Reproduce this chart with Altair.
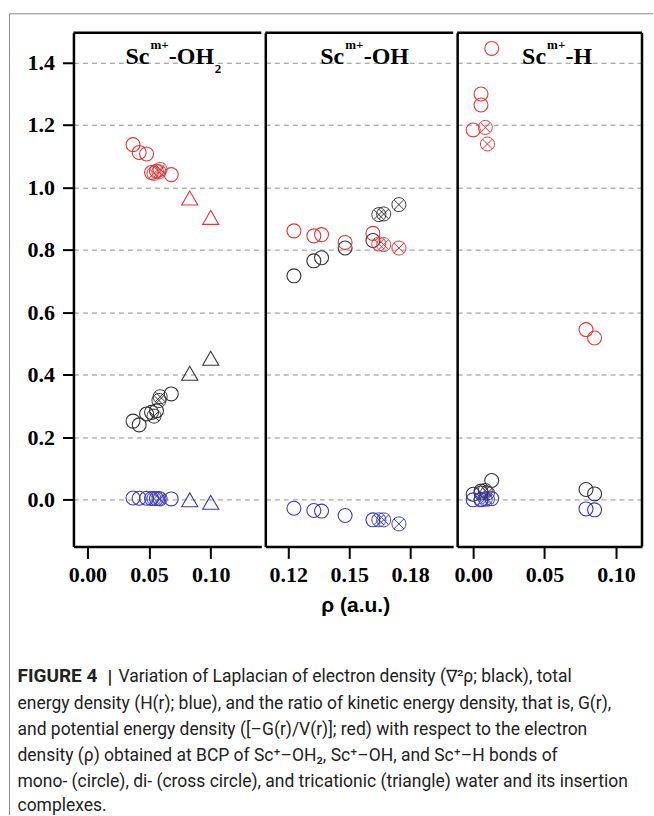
import altair as alt
import pandas as pd

# ---------------- data ----------------
Y_TICKS = [0.0, 0.2, 0.4, 0.6, 0.8, 1.0, 1.2, 1.4]
Y_DOMAIN = [-0.149, 1.495]

P1_X_TICKS = [0.0, 0.05, 0.10]
P2_X_TICKS = [0.12, 0.15, 0.18]
P3_X_TICKS = [0.0, 0.05, 0.10]

P1_X_DOMAIN = [-0.0113, 0.141]
P2_X_DOMAIN = [0.1087, 0.2012]
P3_X_DOMAIN = [-0.0112, 0.1182]

# Panel 1: Sc-OH2
P1_MONO_RHO = [0.037, 0.042, 0.048, 0.052, 0.056, 0.068]
P1_MONO_LAP = [0.252, 0.240, 0.275, 0.280, 0.285, 0.339]
P1_MONO_H = [0.006, 0.005, 0.005, 0.004, 0.004, 0.003]
P1_MONO_GV = [1.137, 1.112, 1.107, 1.048, 1.052, 1.041]
P1_DI_RHO = [0.054, 0.058, 0.059]
P1_DI_LAP = [0.268, 0.318, 0.330]
P1_DI_H = [0.004, 0.004, 0.003]
P1_DI_GV = [1.045, 1.050, 1.058]
P1_TRI_RHO = [0.083, 0.100]
P1_TRI_LAP = [0.405, 0.453]
P1_TRI_H = [0.000, -0.008]
P1_TRI_GV = [0.966, 0.904]

# Panel 2: Sc-OH
P2_MONO_RHO = [0.1228, 0.1326, 0.1364, 0.148, 0.1617]
P2_MONO_LAP = [0.717, 0.765, 0.775, 0.806, 0.830]
P2_MONO_H = [-0.027, -0.034, -0.036, -0.050, -0.064]
P2_MONO_GV = [0.861, 0.845, 0.849, 0.824, 0.853]
P2_DI_RHO = [0.1646, 0.167, 0.1745]
P2_DI_LAP = [0.913, 0.915, 0.945]
P2_DI_H = [-0.064, -0.064, -0.077]
P2_DI_GV = [0.819, 0.817, 0.806]

# Panel 3: Sc-H
P3_MONO_RHO = [0.013, 0.0055, 0.0055, 0.000, 0.079, 0.085]
P3_MONO_LAP = [0.062, 0.028, 0.022, 0.018, 0.033, 0.019]
P3_MONO_H = [0.004, 0.002, 0.000, 0.000, -0.029, -0.032]
P3_MONO_GV = [1.445, 1.299, 1.264, 1.184, 0.545, 0.518]
P3_DI_RHO = [0.0085, 0.010]
P3_DI_LAP = [0.030, 0.022]
P3_DI_H = [0.003, 0.002]
P3_DI_GV = [1.192, 1.139]

SERIES = ["lap", "H", "GV"]
SERIES_COLORS = ["#333333", "#3a3ac4", "#e53535"]

CAPTION_LINES = [
    "Variation of Laplacian of electron density (\u2207\u00b2\u03c1; black), total",
    "energy density (H(r); blue), and the ratio of kinetic energy density, that is, G(r),",
    "and potential energy density ([\u2013G(r)/V(r)]; red) with respect to the electron",
    "density (\u03c1) obtained at BCP of Sc\u207a\u2013OH\u2082, Sc\u207a\u2013OH, and Sc\u207a\u2013H bonds of",
    "mono- (circle), di- (cross circle), and tricationic (triangle) water and its insertion",
    "complexes.",
]


def rows(kind, rho, lap, h, gv):
    out = []
    for name, vals in zip(SERIES, [lap, h, gv]):
        for r, v in zip(rho, vals):
            out.append({"kind": kind, "series": name, "rho": r, "value": v})
    return out


df1 = pd.DataFrame(
    rows("mono", P1_MONO_RHO, P1_MONO_LAP, P1_MONO_H, P1_MONO_GV)
    + rows("di", P1_DI_RHO, P1_DI_LAP, P1_DI_H, P1_DI_GV)
    + rows("tri", P1_TRI_RHO, P1_TRI_LAP, P1_TRI_H, P1_TRI_GV)
)
df2 = pd.DataFrame(
    rows("mono", P2_MONO_RHO, P2_MONO_LAP, P2_MONO_H, P2_MONO_GV)
    + rows("di", P2_DI_RHO, P2_DI_LAP, P2_DI_H, P2_DI_GV)
)
df3 = pd.DataFrame(
    rows("mono", P3_MONO_RHO, P3_MONO_LAP, P3_MONO_H, P3_MONO_GV)
    + rows("di", P3_DI_RHO, P3_DI_LAP, P3_DI_H, P3_DI_GV)
)

ONE = pd.DataFrame({"a": [0]})
SERIF = "Liberation Serif"
CAP_FONT = "Roboto"
CROSS_CIRCLE = ("M1,0A1,1,0,1,1,-1,0A1,1,0,1,1,1,0Z"
                "M-0.707,-0.707L0.707,0.707M-0.707,0.707L0.707,-0.707")

H = 514


def panel(df, xdom, xticks, width, first, xtitle, title_parts, right_border, extra):
    xaxis_kw = dict(values=xticks, format=".2f", grid=False, domainColor="black",
                    domainWidth=2.5, tickColor="black", tickWidth=2, tickSize=12,
                    labelFont=SERIF, labelFontWeight="bold", labelFontSize=22,
                    labelColor="black", labelPadding=6, labelFlush=False,
                    titleFont="Liberation Sans", titleFontWeight="bold",
                    titleFontSize=21, titleColor="black", titlePadding=9)
    if xtitle:
        xaxis_kw["title"] = xtitle
        xaxis_kw["titleX"] = 90
    else:
        xaxis_kw["title"] = None
    x = alt.X("rho:Q", scale=alt.Scale(domain=xdom, nice=False, zero=False),
              axis=alt.Axis(**xaxis_kw))
    yaxis_kw = dict(values=Y_TICKS, format=".1f", grid=True, gridDash=[5, 4],
                    gridColor="#8f8f8f", gridWidth=1, domainColor="black",
                    domainWidth=2.5, title=None)
    if first:
        yaxis_kw.update(labels=True, ticks=True, tickColor="black", tickWidth=2,
                        tickSize=11, labelFont=SERIF, labelFontWeight="bold",
                        labelFontSize=22, labelColor="black", labelPadding=8)
    else:
        yaxis_kw.update(labels=False, ticks=False)
    y = alt.Y("value:Q", scale=alt.Scale(domain=Y_DOMAIN, nice=False, zero=False),
              axis=alt.Axis(**yaxis_kw))
    color = alt.Color("series:N", scale=alt.Scale(domain=SERIES, range=SERIES_COLORS),
                      legend=None)
    base = alt.Chart(df).encode(x=x, y=y, color=color)
    circles = base.transform_filter(alt.datum.kind == "mono").mark_point(
        shape="circle", filled=False, size=195, strokeWidth=1.1, opacity=1)
    crosses = base.transform_filter(alt.datum.kind == "di").mark_point(
        shape=CROSS_CIRCLE, filled=False, size=195, strokeWidth=1.0, opacity=1)
    tris = base.transform_filter(alt.datum.kind == "tri").mark_point(
        shape="triangle-up", filled=False, size=260, strokeWidth=1.1, opacity=1)
    layers = [circles, crosses, tris]
    top = alt.Chart(ONE).mark_rule(color="black", strokeWidth=2.5).encode(
        x=alt.value(0), x2=alt.value(width), y=alt.value(0))
    layers.append(top)
    if right_border:
        layers.append(alt.Chart(ONE).mark_rule(color="black", strokeWidth=2.5).encode(
            x=alt.value(width), y=alt.value(0), y2=alt.value(H)))
    for txt, px, py, size in title_parts:
        layers.append(alt.Chart(ONE).mark_text(
            align="left", baseline="alphabetic", font=SERIF, fontWeight="bold",
            fontSize=size, color="black").encode(
            x=alt.value(px), y=alt.value(py), text=alt.value(txt)))
    layers.extend(extra)
    return alt.layer(*layers).properties(width=width, height=H)


# outer frame + caption, attached to panel 1 (coordinates relative to its plot)
CAP_BASE = [650, 676.5, 703, 729, 755, 779]
extra1 = [
    alt.Chart(ONE).mark_rule(color="#8a8a8a", strokeWidth=1).encode(
        x=alt.value(-64), y=alt.value(-19), y2=alt.value(783)),
    alt.Chart(ONE).mark_rule(color="#8a8a8a", strokeWidth=1).encode(
        x=alt.value(-64), x2=alt.value(580), y=alt.value(-19)),
    alt.Chart(ONE).mark_text(align="left", baseline="alphabetic", font=CAP_FONT,
                             fontWeight="bold", fontSize=19, color="#222222").encode(
        x=alt.value(-56), y=alt.value(CAP_BASE[0]), text=alt.value("FIGURE 4")),
    alt.Chart(ONE).mark_text(align="left", baseline="alphabetic", font=CAP_FONT,
                             fontWeight="bold", fontSize=19, color="#222222").encode(
        x=alt.value(34), y=alt.value(CAP_BASE[0] + 1), text=alt.value("|")),
]
for i, line in enumerate(CAPTION_LINES):
    extra1.append(alt.Chart(ONE).mark_text(
        align="left", baseline="alphabetic", font=CAP_FONT,
        fontSize=17.5, color="#222222").encode(
        x=alt.value(45 if i == 0 else -56), y=alt.value(CAP_BASE[i]),
        text=alt.value(line)))

p1 = panel(df1, P1_X_DOMAIN, P1_X_TICKS, 188, True, None,
           [("Sc", 52, 31, 24), ("m+", 77, 16, 13), ("-OH", 95.5, 31, 24), ("2", 141.5, 40, 13)],
           False, extra1)
p2 = panel(df2, P2_X_DOMAIN, P2_X_TICKS, 188, False, "\u03c1 (a.u.)",
           [("Sc", 55, 31, 24), ("m+", 80, 16, 13), ("-OH", 98.5, 31, 24)],
           False, [])
p3 = panel(df3, P3_X_DOMAIN, P3_X_TICKS, 185, False, None,
           [("Sc", 65, 31, 24), ("m+", 90, 16, 13), ("-H", 108.5, 31, 24)],
           True, [])

chart = alt.hconcat(p1, p2, p3, spacing=4, bounds="flush").configure_view(
    stroke=None).properties(padding={"left": 8.5, "top": 12.5, "right": 0, "bottom": 0})

chart.save("out.html", embed_options={"renderer": "svg", "actions": False})
